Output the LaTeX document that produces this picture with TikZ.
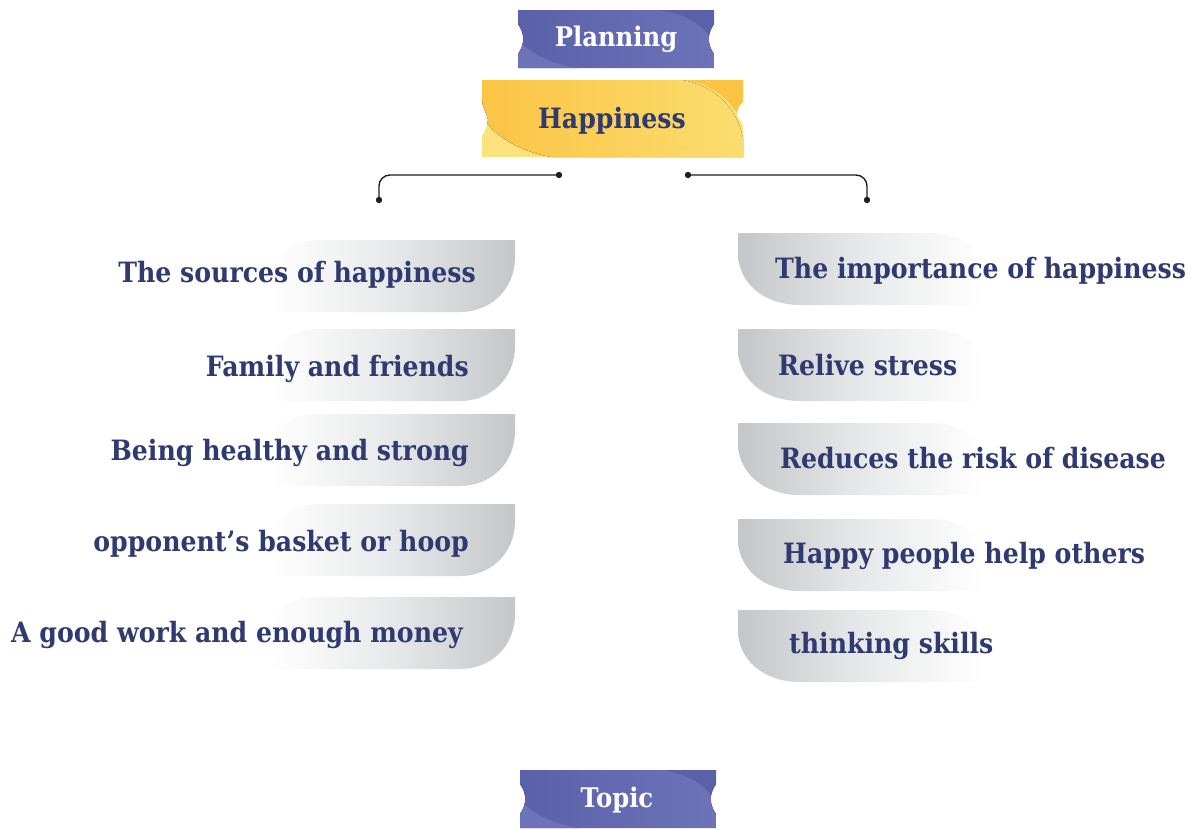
\documentclass[tikz,border=0pt]{standalone}
\usepackage{fontspec}
\newfontfamily\lblfont[FakeStretch=0.9]{DejaVu Serif}
\definecolor{navy}{RGB}{47,58,112}
\definecolor{pdark}{RGB}{90,97,168}
\definecolor{pmid}{RGB}{98,105,175}
\definecolor{plight}{RGB}{108,115,185}
\definecolor{ydark}{RGB}{251,196,68}
\definecolor{ylight}{RGB}{251,221,112}
\definecolor{ypale}{RGB}{252,226,124}
\definecolor{gdark}{RGB}{196,198,201}
\definecolor{gmid}{RGB}{231,232,233}
\definecolor{gpale}{RGB}{255,255,255}
\definecolor{conncol}{RGB}{30,30,30}
\tikzset{
  lt/.style={font=\lblfont\bfseries\fontsize{28}{30}\selectfont, text=navy, inner sep=0pt},
  ttl/.style={font=\lblfont\bfseries\fontsize{27}{30}\selectfont, text=white, inner sep=0pt},
  conn/.style={draw=conncol, line width=1.4pt, rounded corners=11pt},
  dot/.style={fill=conncol},
  lpill/.style={left color=gpale, right color=gdark, middle color=gmid, draw=none},
  rpill/.style={left color=gdark, right color=gpale, middle color=gmid, draw=none}
}
\newcommand{\leftpill}[2]{% right edge, top
  \path[lpill] (#1,#2) -- (#1,#2+17) .. controls (#1,#2+50) and (#1-25,#2+72) .. (#1-55,#2+72)
    -- (#1-245,#2+72) -- (#1-245,#2+45) .. controls (#1-245,#2+14) and (#1-228,#2) .. (#1-195,#2) -- cycle;}
\newcommand{\rightpill}[2]{% left edge, top
  \path[rpill] (#1,#2) -- (#1+190,#2) .. controls (#1+225,#2) and (#1+245,#2+14) .. (#1+245,#2+45)
    -- (#1+245,#2+72) -- (#1+62,#2+72) .. controls (#1+26,#2+72) and (#1,#2+50) .. (#1,#2+20) -- cycle;}
\newcommand{\purplebanner}[2]{% left x, top y ; width 196, height 58
  \begin{scope}
    \clip (#1,#2) -- (#1+196,#2) -- (#1+196,#2+14) .. controls (#1+189,#2+24) and (#1+189,#2+34) .. (#1+196,#2+44)
      -- (#1+196,#2+58) -- (#1,#2+58) -- (#1,#2+44) .. controls (#1+7,#2+34) and (#1+7,#2+24) .. (#1,#2+14) -- cycle;
    \fill[left color=pdark, right color=plight] (#1,#2) rectangle (#1+196,#2+58);
    \fill[pdark] (#1+140,#2) .. controls (#1+175,#2+4) and (#1+194,#2+22) .. (#1+198,#2+40) -- (#1+198,#2-2) -- cycle;
    \fill[plight] (#1-2,#2+28) .. controls (#1+15,#2+48) and (#1+45,#2+58) .. (#1+75,#2+60) -- (#1-2,#2+60) -- cycle;
  \end{scope}}
\begin{document}
\begin{tikzpicture}[x=1pt,y=-1pt]
\useasboundingbox (0,0) rectangle (1193,828);
\fill[white] (0,0) rectangle (1193,828);

% ---- banners
\purplebanner{518}{10}
\node[ttl, anchor=base] (plan) at (616,46) {Planning};

\begin{scope}
  \clip (482,80) -- (743,80) -- (743,102) .. controls (736,108) and (736,114) .. (739,119)
    .. controls (741,122) and (743,124) .. (743,128) -- (743,157) -- (482,157) -- (482,136)
    .. controls (486,130) and (488,124) .. (488,119) .. controls (486,112) and (482,106) .. (482,100) -- cycle;
  \fill[ypale] (480,78) rectangle (745,159);
  \fill[ydark] (670,78) -- (745,78) -- (745,130) .. controls (735,100) and (710,80) .. (670,78) -- cycle;
  \fill[left color=ydark, right color=ylight]
    (480,78) -- (665,78) .. controls (715,80) and (745,110) .. (745,159)
    -- (570,159) .. controls (525,157) and (490,135) .. (480,112) -- cycle;
\end{scope}
\node[lt, anchor=base, font=\lblfont\bfseries\fontsize{28}{30}\selectfont] (hap) at (612,128) {Happiness};

\purplebanner{520}{770}
\node[ttl, anchor=base] (topic) at (617,807) {Topic};

% ---- connectors
\coordinate (ls) at (559,175);
\coordinate (le) at (379,200);
\coordinate (rs) at (688,175);
\coordinate (re) at (867,200);
\draw[conn] (ls) -| (le);
\draw[conn] (rs) -| (re);
\foreach \c in {ls,le,rs,re} \fill[dot] (\c) circle (3.2);

% ---- left pills
\leftpill{515}{240}
\leftpill{515}{329}
\leftpill{515}{414}
\leftpill{515}{504}
\leftpill{515}{597}
\node[lt, anchor=base east] (l1) at (476,282) {The sources of happiness};
\node[lt, anchor=base east] (l2) at (469,376) {Family and friends};
\node[lt, anchor=base east] (l3) at (469,460) {Being healthy and strong};
\node[lt, anchor=base east] (l4) at (469,551) {opponent’s basket or hoop};
\node[lt, anchor=base east] (l5) at (463,642) {A good work and enough money};

% ---- right pills
\rightpill{738}{233}
\rightpill{738}{329}
\rightpill{738}{423}
\rightpill{738}{519}
\rightpill{738}{610}
\node[lt, anchor=base west] (r1) at (775,278) {The importance of happiness};
\node[lt, anchor=base west] (r2) at (778,375) {Relive stress};
\node[lt, anchor=base west] (r3) at (780,468) {Reduces the risk of disease};
\node[lt, anchor=base west] (r4) at (783,563) {Happy people help others};
\node[lt, anchor=base west] (r5) at (789,653) {thinking skills};
\end{tikzpicture}
\end{document}
